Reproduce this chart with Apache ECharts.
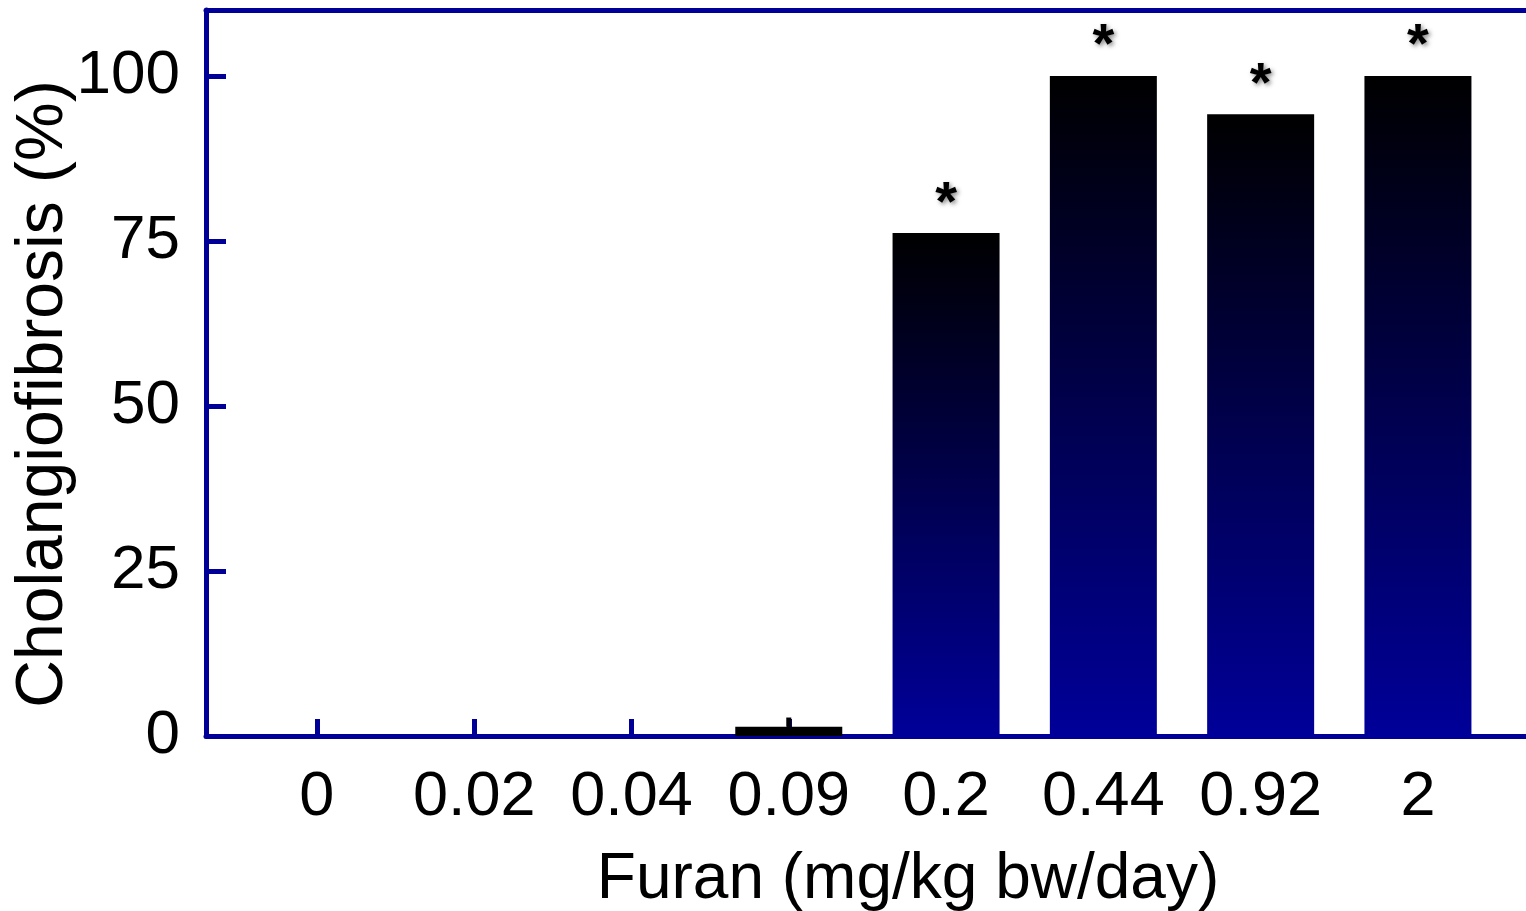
<!DOCTYPE html>
<html>
<head>
<meta charset="utf-8">
<script src="https://cdn.jsdelivr.net/npm/echarts@6/dist/echarts.min.js"></script>
<style>
html,body{margin:0;padding:0;background:#fff;}
#chart{width:1526px;height:911px;}
</style>
</head>
<body>
<div id="chart"></div>
<script>
const categories = ['0', '0.02', '0.04', '0.09', '0.2', '0.44', '0.92', '2'];
const values = [0, 0, 0, 1.4, 76.2, 100, 94.2, 100];
const errors = [0, 0, 0, 1.4, 0, 0, 0, 0];
const significant = [false, false, false, false, true, true, true, true];
const yTicks = [0, 25, 50, 75, 100];

const AXIS = '#000099';
const FONT = '"Liberation Sans", Arial, sans-serif';
const idx = categories.map((c, i) => i);

const chart = echarts.init(document.getElementById('chart'), null, {renderer: 'canvas'});

const barData = values.map((v, i) => ({
  value: [i, v],
  itemStyle: v < 5 ? {color: '#000000'} : undefined,
  label: {show: significant[i]}
}));

chart.setOption({
  backgroundColor: '#ffffff',
  animation: false,
  grid: {left: 206, right: 0, top: 10, bottom: 175, outerBoundsMode: 'none', containLabel: false},
  xAxis: [{
    type: 'value',
    min: -0.705,
    max: 7.687,
    name: 'Furan (mg/kg bw/day)',
    nameLocation: 'middle',
    nameGap: 112,
    nameMoveOverlap: false,
    nameTextStyle: {fontFamily: FONT, fontSize: 64, color: '#000', padding: [0, 0, 0, 84]},
    axisLine: {show: true, onZero: false, lineStyle: {color: AXIS, width: 5}},
    axisTick: {show: true, inside: true, length: 17, customValues: idx, lineStyle: {color: AXIS, width: 5}},
    axisLabel: {
      show: true, margin: 30, customValues: idx,
      fontFamily: FONT, fontSize: 63, color: '#000',
      formatter: v => categories[Math.round(v)]
    },
    splitLine: {show: false}
  }, {
    type: 'value',
    position: 'top',
    min: -0.705,
    max: 7.687,
    axisLine: {show: true, onZero: false, lineStyle: {color: AXIS, width: 5}},
    axisTick: {show: false},
    axisLabel: {show: false},
    splitLine: {show: false}
  }],
  yAxis: {
    type: 'value',
    min: 0,
    max: 110,
    name: 'Cholangiofibrosis (%)',
    nameLocation: 'middle',
    nameGap: 129,
    nameMoveOverlap: false,
    nameTextStyle: {fontFamily: FONT, fontSize: 66, color: '#000', padding: [0, 42, 0, 0]},
    axisLine: {show: true, onZero: false, lineStyle: {color: AXIS, width: 5}},
    axisTick: {show: true, inside: true, length: 20, customValues: yTicks, lineStyle: {color: AXIS, width: 5}},
    axisLabel: {show: true, margin: 26, customValues: yTicks, fontFamily: FONT, fontSize: 62, color: '#000'},
    splitLine: {show: false}
  },
  series: [{
    type: 'bar',
    xAxisIndex: 0,
    barWidth: 107,
    data: barData,
    itemStyle: {
      color: new echarts.graphic.LinearGradient(0, 0, 0, 1, [
        {offset: 0, color: '#000000'},
        {offset: 1, color: '#000099'}
      ])
    },
    label: {
      show: false,
      position: 'top',
      distance: 1,
      formatter: '*',
      fontFamily: FONT,
      fontWeight: 'bold',
      fontSize: 56,
      color: '#000',
      textShadowColor: 'rgba(0,0,0,0.45)',
      textShadowBlur: 4,
      textShadowOffsetX: 2,
      textShadowOffsetY: 2
    }
  }, {
    type: 'custom',
    xAxisIndex: 0,
    z: 5,
    data: values.map((v, i) => [i, v, errors[i]]),
    renderItem: function (params, api) {
      const e = api.value(2);
      if (!e) return null;
      const p0 = api.coord([api.value(0), api.value(1)]);
      const p1 = api.coord([api.value(0), api.value(1) + e]);
      return {
        type: 'line',
        shape: {x1: p0[0], y1: p0[1], x2: p1[0], y2: p1[1]},
        style: {stroke: '#000', lineWidth: 5}
      };
    }
  }]
});
</script>
</body>
</html>
